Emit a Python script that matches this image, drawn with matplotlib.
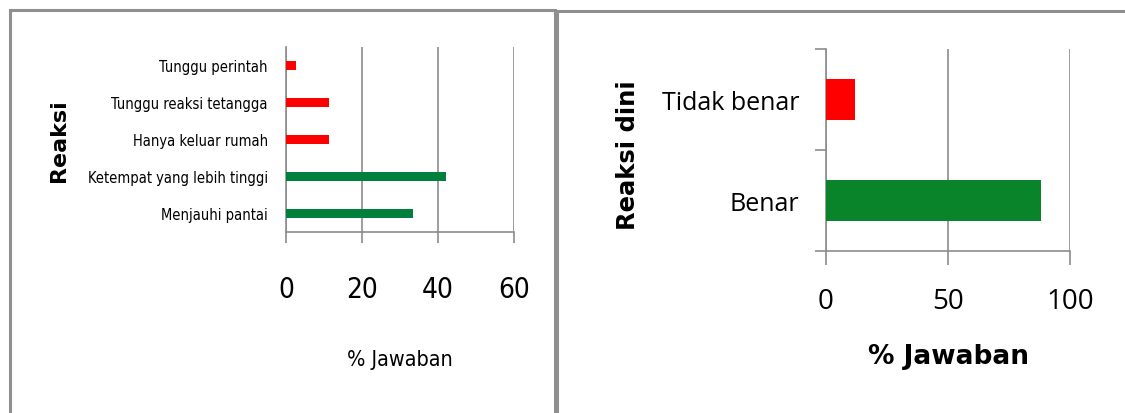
import matplotlib
matplotlib.use("Agg")
import matplotlib.pyplot as plt
from matplotlib.patches import Rectangle

# left chart: reaksi (bottom to top)
reaksi_labels = ["Menjauhi pantai", "Ketempat yang lebih tinggi", "Hanya keluar rumah",
                 "Tunggu reaksi tetangga", "Tunggu perintah"]
reaksi_values = [33.3, 42.0, 11.2, 11.2, 2.5]
reaksi_colors = ["#00803C", "#00803C", "#FF0000", "#FF0000", "#FF0000"]
reaksi_ticks = [0, 20, 40, 60]

# right chart: reaksi dini
dini_labels = ["Benar", "Tidak benar"]
dini_values = [88, 12]
dini_colors = ["#0A842A", "#FF0000"]
dini_ticks = [0, 50, 100]

W, H = 1125, 414
GRID = "#8C8C8C"

fig = plt.figure(figsize=(W / 100, H / 100), dpi=100)


def px_axes(x0, y0, x1, y1):
    return fig.add_axes([x0 / W, 1 - y1 / H, (x1 - x0) / W, (y1 - y0) / H])


# panel frames
for x0, y0, x1 in [(10, 11, 555), (557, 12, 1135)]:
    fig.patches.append(Rectangle((x0 / W, -0.1), (x1 - x0) / W, 1 - y0 / H + 0.1,
                                 transform=fig.transFigure, fill=False,
                                 edgecolor="#8F8F8F", linewidth=2.2))

# left chart
ax1 = px_axes(286, 48, 514, 233)
ypos = list(range(len(reaksi_labels)))
ax1.barh(ypos, reaksi_values, height=0.24, color=reaksi_colors, zorder=3)
ax1.set_xlim(0, 60)
ax1.set_ylim(-0.5, len(reaksi_labels) - 0.5)
ax1.set_xticks(reaksi_ticks)
ax1.set_xticklabels([str(t) for t in reaksi_ticks], family="DejaVu Sans",
                    fontstretch="condensed", fontsize=20)
ax1.set_yticks(ypos)
ax1.set_yticklabels(reaksi_labels, family="DejaVu Sans", fontstretch="condensed",
                    fontsize=10.5)
ax1.tick_params(axis="x", length=8, color=GRID, pad=23, width=1.2)
ax1.tick_params(axis="y", length=0, pad=13)
ax1.grid(axis="x", color=GRID, linewidth=1.2, zorder=0)
for s in ["top", "right"]:
    ax1.spines[s].set_visible(False)
for s in ["left", "bottom"]:
    ax1.spines[s].set_color(GRID)
    ax1.spines[s].set_linewidth(1.2)
ax1.set_xlabel("% Jawaban", family="DejaVu Sans", fontstretch="condensed",
               fontsize=15.5, labelpad=33)
fig.text(59 / W, 1 - 141 / H, "Reaksi", rotation=90, fontsize=16, fontweight="bold",
         ha="center", va="center", family="DejaVu Sans")

# right chart
ax2 = px_axes(826, 50, 1070, 252)
ypos2 = list(range(len(dini_labels)))
ax2.barh(ypos2, dini_values, height=0.4, color=dini_colors, zorder=3)
ax2.set_xlim(0, 100)
ax2.set_ylim(-0.5, len(dini_labels) - 0.5)
ax2.set_xticks(dini_ticks)
ax2.set_xticklabels([str(t) for t in dini_ticks], family="Open Sans", fontsize=20)
ax2.set_yticks([y - 0.5 for y in ypos2] + [len(dini_labels) - 0.5])
ax2.set_yticklabels([])
ax2.set_yticks(ypos2, minor=True)
ax2.set_yticklabels(dini_labels, minor=True, family="Open Sans", fontsize=18)
ax2.tick_params(axis="y", which="major", length=8, color=GRID, width=1.2)
ax2.tick_params(axis="y", which="minor", length=0, pad=19)
ax2.tick_params(axis="x", length=10, color=GRID, pad=16, width=1.2)
ax2.grid(axis="x", color=GRID, linewidth=1.2, zorder=0)
for s in ["top", "right"]:
    ax2.spines[s].set_visible(False)
for s in ["left", "bottom"]:
    ax2.spines[s].set_color(GRID)
    ax2.spines[s].set_linewidth(1.2)
ax2.set_xlabel("% Jawaban", family="DejaVu Sans", fontsize=19, fontweight="bold", labelpad=20)
fig.text(628 / W, 1 - 155 / H, "Reaksi dini", rotation=90, fontsize=17.5, fontweight="bold",
         ha="center", va="center", family="DejaVu Sans")

fig.savefig("out.png", dpi=100)
